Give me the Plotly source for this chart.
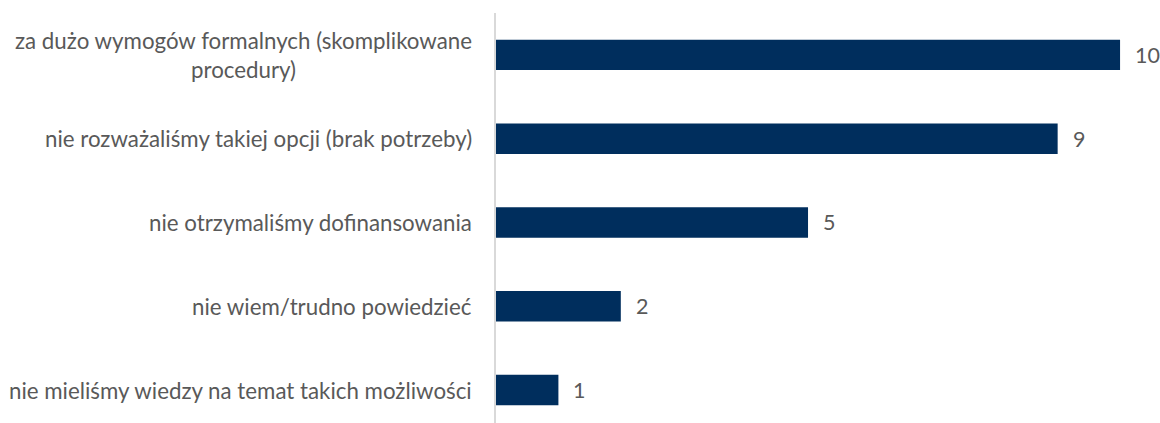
import plotly.graph_objects as go

# Categories listed bottom-to-top (plotly puts the first category at the bottom)
categories = [
    "nie mieliśmy wiedzy na temat takich możliwości",
    "nie wiem/trudno powiedzieć",
    "nie otrzymaliśmy dofinansowania",
    "nie rozważaliśmy takiej opcji (brak potrzeby)",
    "za dużo wymogów formalnych (skomplikowane<br>procedury)",
]
values = [1, 2, 5, 9, 10]

BAR_COLOR = "#002E5D"
TEXT_COLOR = "#595959"
FONT = "Lato"
LABEL_SIZE = 22.3
VALUE_SIZE = 21.5

fig = go.Figure(
    go.Bar(
        x=values,
        y=list(range(len(categories))),
        orientation="h",
        marker=dict(color=BAR_COLOR, line=dict(width=0)),
        width=0.363,
        hoverinfo="skip",
    )
)

annotations = []
# Category labels, right-aligned to the axis, lines centred within each label
for i, cat in enumerate(categories):
    annotations.append(dict(
        x=0, xref="paper", y=i, yref="y",
        text=cat, showarrow=False,
        xanchor="right", yanchor="middle", align="center",
        xshift=-22,
        font=dict(family=FONT, size=LABEL_SIZE, color=TEXT_COLOR),
    ))
# Value labels just past the end of each bar
for i, v in enumerate(values):
    annotations.append(dict(
        x=v, xref="x", y=i, yref="y",
        text=str(v), showarrow=False,
        xanchor="left", yanchor="middle",
        xshift=13,
        font=dict(family=FONT, size=VALUE_SIZE, color=TEXT_COLOR),
    ))

fig.update_layout(
    width=1160, height=423,
    margin=dict(l=496, r=0, t=13, b=0),
    paper_bgcolor="white", plot_bgcolor="white",
    showlegend=False,
    annotations=annotations,
    xaxis=dict(range=[0, 10.64], visible=False, fixedrange=True),
    yaxis=dict(
        range=[-0.393, 4.5],
        showticklabels=False, showgrid=False, zeroline=False,
        showline=True, linecolor="#D9D9D9", linewidth=2,
        ticks="", fixedrange=True,
    ),
)

fig.write_html("out.html")
